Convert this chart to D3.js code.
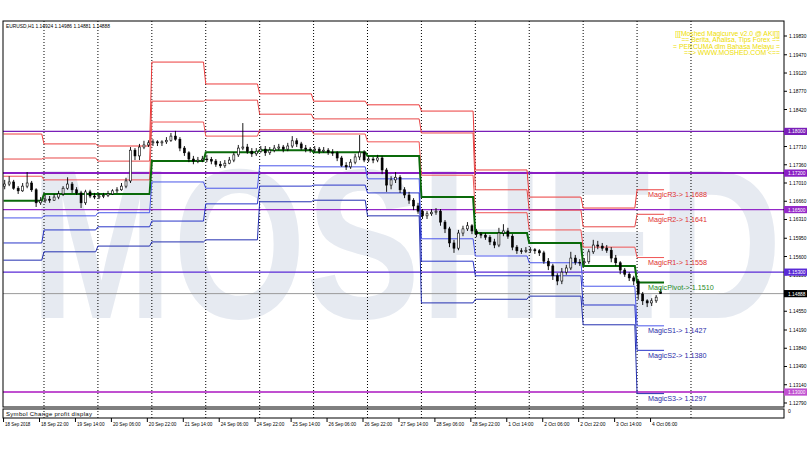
<!DOCTYPE html>
<html><head><meta charset="utf-8">
<script src="https://cdn.jsdelivr.net/npm/d3@7/dist/d3.min.js"></script>
<style>body{margin:0;background:#fff}svg{display:block}text{font-family:"Liberation Sans",Arial,sans-serif}</style>
</head><body><svg id="c" width="810" height="450"></svg>
<script>
// ---- data: 2-hour OHLC of EURUSD H1 chart (bar index in hours from 18 Sep 06:00) ----
const opens=[1.1695,1.1699,1.1703,1.1691,1.1686,1.1695,1.1701,1.1688,1.1663,1.1667,1.1670,1.1668,1.1674,1.1680,1.1691,1.1699,1.1688,1.1682,1.1663,1.1684,1.1676,1.1674,1.1676,1.1677,1.1680,1.1686,1.1688,1.1695,1.1705,1.1764,1.1753,1.1770,1.1774,1.1778,1.1780,1.1778,1.1780,1.1783,1.1791,1.1785,1.1768,1.1759,1.1747,1.1743,1.1745,1.1747,1.1746,1.1743,1.1737,1.1734,1.1739,1.1745,1.1755,1.1768,1.1770,1.1762,1.1757,1.1762,1.1766,1.1759,1.1764,1.1768,1.1770,1.1766,1.1772,1.1782,1.1776,1.1768,1.1766,1.1764,1.1766,1.1762,1.1764,1.1760,1.1759,1.1749,1.1735,1.1732,1.1741,1.1751,1.1760,1.1745,1.1747,1.1745,1.1749,1.1726,1.1697,1.1707,1.1712,1.1688,1.1678,1.1668,1.1657,1.1647,1.1638,1.1642,1.1645,1.1647,1.1626,1.1613,1.1586,1.1576,1.1605,1.1613,1.1619,1.1609,1.1603,1.1601,1.1597,1.1588,1.1582,1.1605,1.1609,1.1599,1.1578,1.1571,1.1570,1.1572,1.1573,1.1571,1.1567,1.1551,1.1542,1.1523,1.1513,1.1530,1.1538,1.1557,1.1549,1.1548,1.1550,1.1569,1.1582,1.1580,1.1576,1.1572,1.1557,1.1548,1.1534,1.1526,1.1519,1.1513,1.1488,1.1475,1.1471,1.1475,1.14924];
const highs=[1.1707,1.1714,1.1707,1.1695,1.1701,1.1722,1.1705,1.1691,1.1674,1.1678,1.1676,1.1680,1.1686,1.1695,1.1712,1.1703,1.1693,1.1686,1.1688,1.1688,1.1682,1.1682,1.1682,1.1686,1.1689,1.1693,1.1701,1.1711,1.1770,1.1768,1.1776,1.1782,1.1783,1.1785,1.1783,1.1783,1.1789,1.1797,1.1801,1.1789,1.1772,1.1762,1.1753,1.1751,1.1753,1.1755,1.1751,1.1747,1.1743,1.1745,1.1751,1.1760,1.1774,1.1816,1.1776,1.1768,1.1768,1.1772,1.1772,1.1770,1.1774,1.1776,1.1774,1.1778,1.1791,1.1787,1.1780,1.1774,1.1770,1.1772,1.1770,1.1770,1.1768,1.1766,1.1762,1.1753,1.1741,1.1747,1.1757,1.1793,1.1764,1.1753,1.1751,1.1755,1.1753,1.1730,1.1714,1.1722,1.1716,1.1693,1.1684,1.1672,1.1663,1.1651,1.1647,1.1651,1.1653,1.1651,1.1630,1.1617,1.1592,1.1611,1.1619,1.1626,1.1622,1.1613,1.1607,1.1605,1.1601,1.1594,1.1615,1.1622,1.1615,1.1603,1.1582,1.1576,1.1578,1.1578,1.1576,1.1574,1.1571,1.1557,1.1546,1.1528,1.1538,1.1544,1.1569,1.1563,1.1555,1.1557,1.1574,1.1592,1.1590,1.1586,1.1582,1.1578,1.1563,1.1551,1.1538,1.1530,1.1523,1.1517,1.1492,1.1478,1.1480,1.1486,1.14986];
const lows=[1.1689,1.1695,1.1688,1.1680,1.1684,1.1691,1.1684,1.1655,1.1659,1.1663,1.1663,1.1667,1.1670,1.1676,1.1688,1.1682,1.1678,1.1653,1.1659,1.1672,1.1670,1.1670,1.1672,1.1674,1.1678,1.1682,1.1686,1.1691,1.1701,1.1745,1.1745,1.1766,1.1770,1.1772,1.1772,1.1772,1.1776,1.1780,1.1782,1.1762,1.1753,1.1741,1.1737,1.1739,1.1741,1.1741,1.1737,1.1732,1.1730,1.1730,1.1737,1.1741,1.1751,1.1764,1.1757,1.1751,1.1753,1.1759,1.1753,1.1755,1.1760,1.1764,1.1760,1.1762,1.1768,1.1770,1.1764,1.1760,1.1759,1.1760,1.1757,1.1759,1.1755,1.1753,1.1743,1.1732,1.1726,1.1728,1.1737,1.1745,1.1741,1.1741,1.1739,1.1741,1.1718,1.1684,1.1689,1.1701,1.1682,1.1672,1.1661,1.1649,1.1642,1.1632,1.1632,1.1638,1.1640,1.1619,1.1605,1.1578,1.1567,1.1572,1.1599,1.1609,1.1603,1.1597,1.1595,1.1592,1.1582,1.1576,1.1578,1.1599,1.1594,1.1572,1.1565,1.1565,1.1567,1.1567,1.1565,1.1561,1.1546,1.1534,1.1515,1.1505,1.1507,1.1525,1.1534,1.1544,1.1542,1.1544,1.1546,1.1565,1.1574,1.1571,1.1567,1.1549,1.1542,1.1526,1.1521,1.1513,1.1505,1.1477,1.1467,1.1463,1.1465,1.1471,1.14881];
const closes=[1.1699,1.1703,1.1691,1.1686,1.1695,1.1701,1.1688,1.1663,1.1667,1.1670,1.1668,1.1674,1.1680,1.1691,1.1699,1.1688,1.1682,1.1663,1.1684,1.1676,1.1674,1.1676,1.1677,1.1680,1.1686,1.1688,1.1695,1.1705,1.1764,1.1753,1.1770,1.1774,1.1778,1.1780,1.1778,1.1780,1.1783,1.1791,1.1785,1.1768,1.1759,1.1747,1.1743,1.1745,1.1747,1.1746,1.1743,1.1737,1.1734,1.1739,1.1745,1.1755,1.1768,1.1770,1.1762,1.1757,1.1762,1.1766,1.1759,1.1764,1.1768,1.1770,1.1766,1.1772,1.1782,1.1776,1.1768,1.1766,1.1764,1.1766,1.1762,1.1764,1.1760,1.1759,1.1749,1.1735,1.1732,1.1741,1.1751,1.1760,1.1745,1.1747,1.1745,1.1749,1.1726,1.1697,1.1707,1.1712,1.1688,1.1678,1.1668,1.1657,1.1647,1.1638,1.1642,1.1645,1.1647,1.1626,1.1613,1.1586,1.1576,1.1605,1.1613,1.1619,1.1609,1.1603,1.1601,1.1597,1.1588,1.1582,1.1605,1.1609,1.1599,1.1578,1.1571,1.1570,1.1572,1.1573,1.1571,1.1567,1.1551,1.1542,1.1523,1.1513,1.1530,1.1538,1.1557,1.1549,1.1548,1.1550,1.1569,1.1582,1.1580,1.1576,1.1572,1.1557,1.1548,1.1534,1.1526,1.1519,1.1513,1.1488,1.1475,1.1471,1.1475,1.1482,1.14888];

// ---- daily Magic pivot levels (one value per day, 18 Sep .. 4 Oct) ----
const dayStarts=[0,18,42,66,90,114,138,162,186,210,234,258,282];
const lastDayEnd=294;
const R3=[1.1795,1.1776,1.1772,1.1933,1.1891,1.1872,1.1858,1.1851,1.1839,1.1726,1.1674,1.1653,1.1688];
const R2=[1.1747,1.1749,1.1743,1.1858,1.1860,1.1833,1.1824,1.1824,1.1797,1.1688,1.1649,1.1617,1.1641];
const R1=[1.1714,1.1707,1.1707,1.1818,1.1791,1.1803,1.1795,1.1780,1.1716,1.1644,1.1611,1.1578,1.1558];
const PV=[1.1667,1.1680,1.1680,1.1743,1.1760,1.1764,1.1760,1.1753,1.1674,1.1605,1.1586,1.1542,1.1510];
const S1=[1.1634,1.1638,1.1644,1.1703,1.1691,1.1734,1.1732,1.1709,1.1594,1.1561,1.1548,1.1503,1.1427];
const S2=[1.1586,1.1611,1.1617,1.1628,1.1661,1.1695,1.1697,1.1682,1.1551,1.1523,1.1523,1.1467,1.1380];
const S3=[1.1553,1.1569,1.1580,1.1588,1.1592,1.1665,1.1668,1.1638,1.1471,1.1478,1.1484,1.1429,1.1297];
const pivotNames=["MagicR3","MagicR2","MagicR1","MagicPivot","MagicS1","MagicS2","MagicS3"];

// ---- horizontal levels, axis ticks ----
const levelPrices=[1.18000,1.17200,1.16500,1.15300,1.13000];
const levelColors=["#7a1fb8","#8a1fc4","#9428c8","#5a2ad6","#c050d0"];
const bidPrice=1.14888;
const priceTicks=[1.19830,1.19470,1.19120,1.18770,1.18420,1.17710,1.17360,1.17010,1.16660,1.16310,1.15950,1.15600,1.15250,1.14550,1.14190,1.13840,1.13490,1.13140,1.12790];
const timeTickBars=[0,16,32,48,64,80,96,112,128,144,160,176,192,208,224,240,256,272,288];
const timeTickLabels=["18 Sep 2018","18 Sep 22:00","19 Sep 14:00","20 Sep 06:00","20 Sep 22:00","21 Sep 14:00","24 Sep 06:00","24 Sep 22:00","25 Sep 14:00","26 Sep 06:00","26 Sep 22:00","27 Sep 14:00","28 Sep 06:00","28 Sep 22:00","1 Oct 14:00","2 Oct 06:00","2 Oct 22:00","3 Oct 14:00","4 Oct 06:00"];
const separatorBars=[18,42,66,90,114,138,162,186,210,234,258,282,306];
const header="EURUSD,H1  1.14924 1.14986 1.14881 1.14888";
const promo=["[[[Moshed Magicurve v2.0 @ AKI[]]","== Berita, Analisa, Tips Forex ==","= PERCUMA dlm Bahasa Melayu =","==> WWW.MOSHED.COM <=="];

// ---- layout ----
const L=3,R=784,T=21,B=407,SB=418;
const svg=d3.select("#c");
const x=d3.scaleLinear().domain([0,347.4]).range([3.56,R]);
const y=d3.scaleLinear().domain([1.12713,1.20118]).range([B,T]);

// watermark
svg.append("text").attr("x",30).attr("y",318).attr("textLength",752).attr("lengthAdjust","spacingAndGlyphs")
  .attr("font-size",214).attr("font-weight","bold").attr("fill","#e6eaf1").text("MOSHED");

// separators
const sepG=svg.append("g");
separatorBars.forEach(b=>{
  sepG.append("line").attr("x1",x(b)).attr("x2",x(b)).attr("y1",T).attr("y2",SB)
    .attr("stroke","#000").attr("stroke-width",1).attr("stroke-dasharray","1,2");
});

// horizontal level lines
levelPrices.forEach((p,i)=>{
  svg.append("line").attr("x1",L).attr("x2",R).attr("y1",y(p)).attr("y2",y(p))
    .attr("stroke",levelColors[i]).attr("stroke-width",i===1||i===4?2:1.4);
});
svg.append("line").attr("x1",L).attr("x2",R).attr("y1",y(bidPrice)).attr("y2",y(bidPrice))
  .attr("stroke","#9a9a9a").attr("stroke-width",1);

// pivot lines
const pivotSets=[R3,R2,R1,PV,S1,S2,S3];
const pivotColors=["#ec3c3c","#e84848","#f05454","#0a6a0a","#4a56ea","#2a36c8","#2430b0"];
const pivotWidths=[1,1,1,2,1,1,1];
const line=d3.line().x(d=>x(d[0])).y(d=>y(d[1]));
pivotSets.forEach((arr,k)=>{
  const pts=[];
  arr.forEach((v,d)=>{
    const s=dayStarts[d], e=(d<dayStarts.length-1?dayStarts[d+1]-1:lastDayEnd);
    pts.push([s,v]); pts.push([e,v]);
  });
  svg.append("path").attr("d",line(pts)).attr("fill","none")
    .attr("stroke",pivotColors[k]).attr("stroke-width",pivotWidths[k]);
});

// candles
const cg=svg.append("g");
closes.forEach((c,j)=>{
  const cx=x(2*j+0.5), o=opens[j], h=highs[j], l=lows[j];
  cg.append("line").attr("x1",cx).attr("x2",cx).attr("y1",y(h)).attr("y2",y(l)).attr("stroke","#000").attr("stroke-width",0.9);
  const top=y(Math.max(o,c)), bot=y(Math.min(o,c));
  cg.append("rect").attr("x",cx-1).attr("y",top).attr("width",2).attr("height",Math.max(0.8,bot-top))
    .attr("fill",c>=o?"#fff":"#000").attr("stroke","#000").attr("stroke-width",0.6);
});

// pivot labels for the last day
const lastD=dayStarts.length-1;
const labColors=["#e03030","#e03030","#e03030","#1f8a1f","#2a2aa8","#2a2aa8","#2a2aa8"];
pivotSets.forEach((arr,k)=>{
  svg.append("text").attr("x",648).attr("y",y(arr[lastD])+7.5).attr("font-size",7.2).attr("fill",labColors[k])
    .text(pivotNames[k]+"-> "+arr[lastD].toFixed(4));
});

// frames
svg.append("rect").attr("x",L).attr("y",T).attr("width",R-L).attr("height",B-T).attr("fill","none").attr("stroke","#000").attr("stroke-width",1);
svg.append("rect").attr("x",L).attr("y",B+2).attr("width",R-L).attr("height",SB-B-2).attr("fill","none").attr("stroke","#000").attr("stroke-width",1);
svg.append("text").attr("x",6).attr("y",415.5).attr("font-size",6).attr("textLength",86).text("Symbol Change profit display");
svg.append("text").attr("x",788).attr("y",413).attr("font-size",5).text("0");

// header
svg.append("text").attr("x",6).attr("y",27.5).attr("font-size",5.8).attr("textLength",104).attr("lengthAdjust","spacingAndGlyphs").text(header);

// promo text
promo.forEach((t,i)=>{
  svg.append("text").attr("x",780).attr("y",35.5+i*6.5).attr("text-anchor","end").attr("font-size",6.8)
    .attr("fill","#eedd00").text(t);
});

// right price axis
const ag=svg.append("g");
priceTicks.forEach(p=>{
  ag.append("line").attr("x1",R).attr("x2",R+3).attr("y1",y(p)).attr("y2",y(p)).attr("stroke","#000");
  ag.append("text").attr("x",789).attr("y",y(p)+2).attr("font-size",5.8).attr("textLength",17.5).attr("lengthAdjust","spacingAndGlyphs").text(p.toFixed(5));
});
levelPrices.forEach((p,i)=>{
  ag.append("rect").attr("x",R).attr("y",y(p)-3.6).attr("width",23).attr("height",7.2).attr("fill",levelColors[i]);
  ag.append("text").attr("x",788).attr("y",y(p)+2).attr("font-size",5.8).attr("textLength",17.5).attr("lengthAdjust","spacingAndGlyphs").attr("fill","#fff").text(p.toFixed(5));
});
ag.append("rect").attr("x",R).attr("y",y(bidPrice)-3.6).attr("width",23).attr("height",7.2).attr("fill","#000");
ag.append("text").attr("x",788).attr("y",y(bidPrice)+2).attr("font-size",5.8).attr("textLength",17.5).attr("lengthAdjust","spacingAndGlyphs").attr("fill","#fff").text(bidPrice.toFixed(5));

// time axis
timeTickBars.forEach((b,i)=>{
  svg.append("line").attr("x1",x(b)).attr("x2",x(b)).attr("y1",SB).attr("y2",SB+4).attr("stroke","#000");
  const t=timeTickLabels[i];
  svg.append("text").attr("x",x(b)+1.5).attr("y",425.5).attr("font-size",5.8)
    .attr("textLength",t.length*2.3).attr("lengthAdjust","spacingAndGlyphs").text(t);
});
</script></body></html>
